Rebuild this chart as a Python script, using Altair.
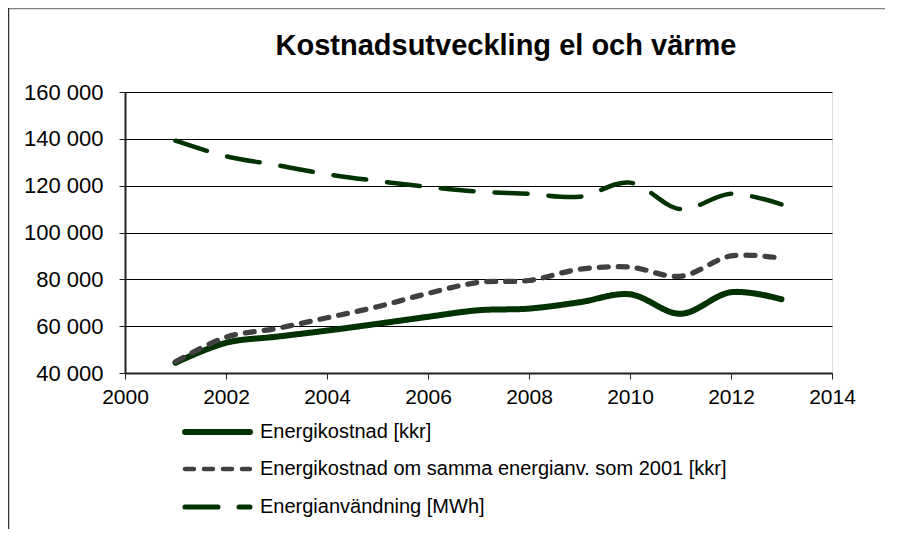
import altair as alt
import pandas as pd

years = list(range(2001, 2014))
energikostnad = [44400, 52900, 55500, 58100, 61000, 64000, 66800, 67500, 70200, 73600, 65300, 74500, 71500]
samma_anv = [44800, 55300, 59000, 63600, 68300, 74000, 78700, 79500, 84300, 85200, 81300, 90000, 89000]
energianv = [139200, 132600, 128800, 124900, 122000, 119500, 117500, 116500, 115300, 121300, 110000, 116500, 112000]

series = [
    "Energikostnad [kkr]",
    "Energikostnad om samma energianv. som 2001 [kkr]",
    "Energianvändning [MWh]",
]
colors = ["#003300", "#404040", "#003300"]
dashes = [[1, 0], [9, 10], [33, 21]]
widths = [6, 4.5, 5]

x_ticks = list(range(2000, 2015, 2))
y_ticks = list(range(40000, 160001, 20000))
title_text = "Kostnadsutveckling el och värme"

rows = []
for name, vals in zip(series, [energikostnad, samma_anv, energianv]):
    for yr, v in zip(years, vals):
        rows.append({"year": yr, "value": v, "serie": name})
df = pd.DataFrame(rows)

FONT = "Liberation Sans"

lines = alt.Chart(df).mark_line(interpolate="catmull-rom", strokeCap="round").encode(
    x=alt.X(
        "year:Q",
        scale=alt.Scale(domain=[2000, 2014], nice=False, zero=False),
        axis=alt.Axis(values=x_ticks, format="d", title=None, grid=False,
                      labelFontSize=21, labelFont=FONT, labelColor="black",
                      domainColor="#222222", domainWidth=2, tickColor="#222222",
                      tickSize=6, labelPadding=7, labelFlush=False),
    ),
    y=alt.Y(
        "value:Q",
        scale=alt.Scale(domain=[40000, 160000], nice=False, zero=False),
        axis=alt.Axis(values=y_ticks, title=None, grid=True, gridColor="black",
                      gridWidth=1, gridOpacity=1,
                      labelExpr="replace(format(datum.value, ',d'), ',', ' ')",
                      labelFontSize=22, labelFont=FONT, labelColor="black",
                      domainColor="#222222", domainWidth=2, tickColor="#222222",
                      tickSize=6, labelPadding=16),
    ),
    color=alt.Color("serie:N", scale=alt.Scale(domain=series, range=colors), legend=None),
    strokeDash=alt.StrokeDash("serie:N", scale=alt.Scale(domain=series, range=dashes), legend=None),
    strokeWidth=alt.StrokeWidth("serie:N", scale=alt.Scale(domain=series, range=widths), legend=None),
)

one = alt.Data(values=[{}])

title = alt.Chart(one).mark_text(
    text=title_text, font=FONT, fontSize=29, fontWeight="bold", color="black",
    align="center", baseline="alphabetic",
).encode(x=alt.value(381), y=alt.value(-37))

top_line = alt.Chart(one).mark_rule(color="#808080", strokeWidth=1.5).encode(
    x=alt.value(-117), x2=alt.value(760), y=alt.value(-83.5)
)
left_line = alt.Chart(one).mark_rule(color="#333333", strokeWidth=1.5).encode(
    x=alt.value(-116.5), y=alt.value(-84), y2=alt.value(440)
)

# Legend (drawn manually for exact row spacing)
legend_rows = [340, 377, 415]
legend_layers = []
for name, col, dash, w, ly in zip(series, colors, dashes, widths, legend_rows):
    legend_layers.append(
        alt.Chart(one).mark_rule(color=col, strokeDash=dash, strokeWidth=w, strokeCap="round").encode(
            x=alt.value(60), x2=alt.value(125), y=alt.value(ly)
        )
    )
    legend_layers.append(
        alt.Chart(one).mark_text(
            text=name, font=FONT, fontSize=20, color="black", align="left", baseline="middle"
        ).encode(x=alt.value(135), y=alt.value(ly))
    )

chart = alt.layer(top_line, left_line, lines, title, *legend_layers).properties(
    width=707,
    height=281,
    autosize=alt.AutoSizeParams(type="none"),
    padding={"left": 117, "top": 84, "right": 59, "bottom": 156},
).configure_view(
    stroke="#808080", strokeWidth=2
).configure(background="white")

chart.save("out.html", embed_options={"renderer": "svg", "actions": False})
